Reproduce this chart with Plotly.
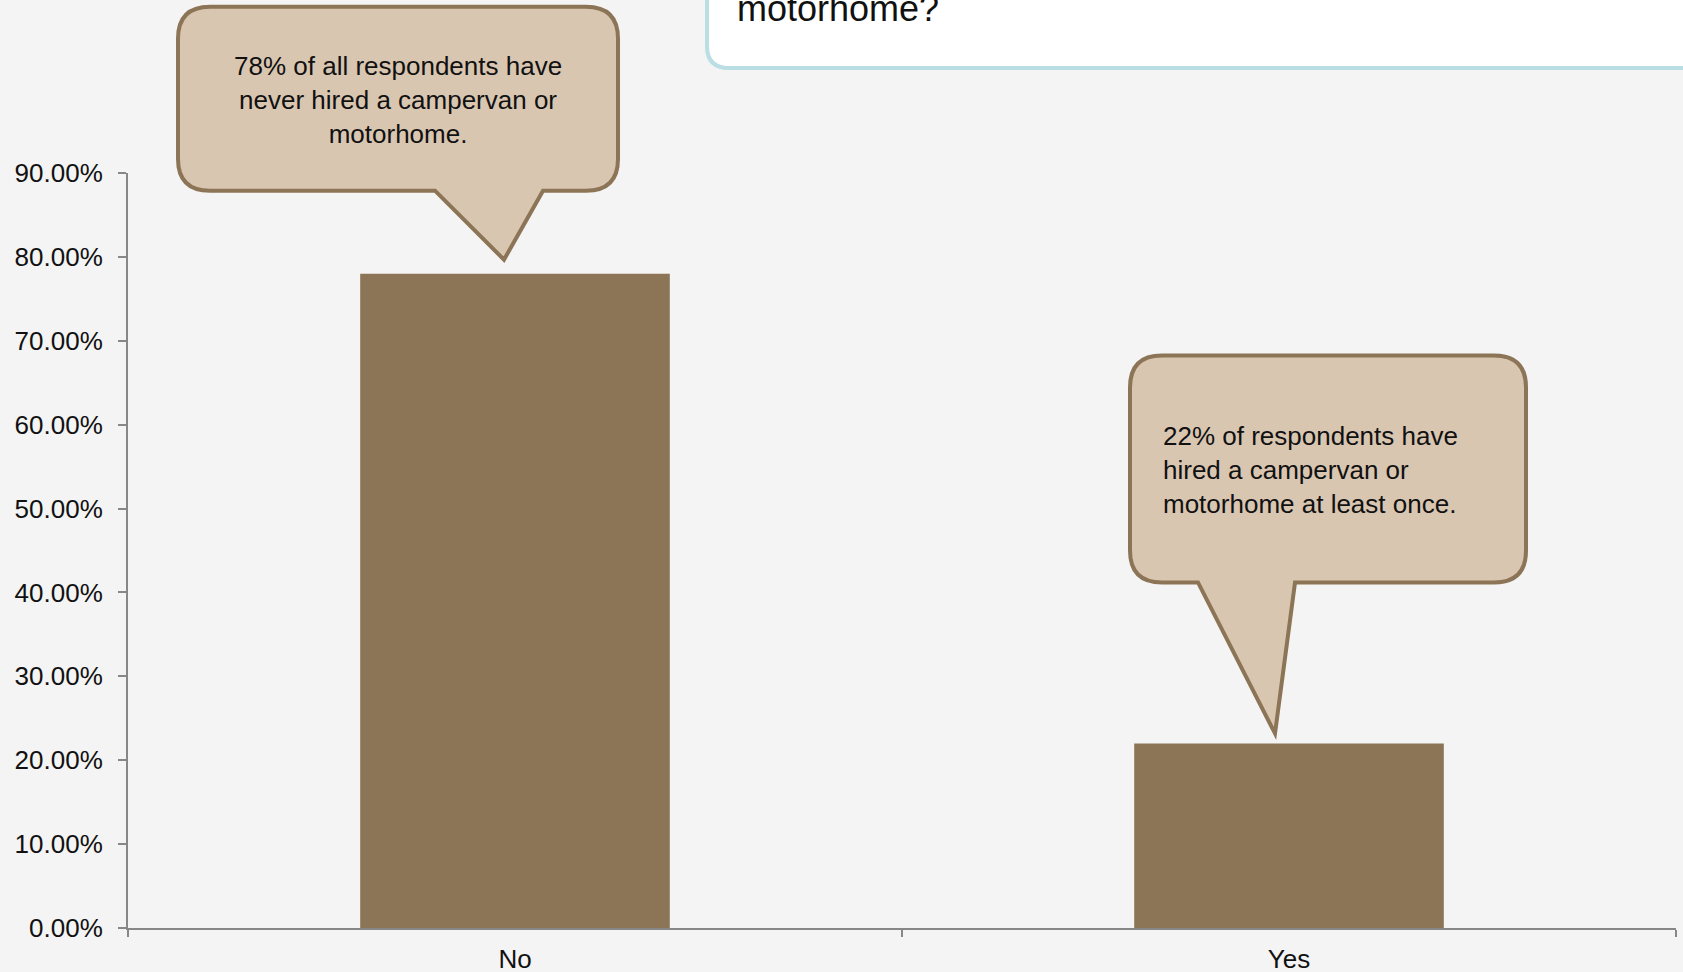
import plotly.graph_objects as go

# Survey answers
categories = ["No", "Yes"]
shares = [0.78, 0.22]
callout_texts = [
    "78% of all respondents have<br>never hired a campervan or<br>motorhome.",
    "22% of respondents have<br>hired a campervan or<br>motorhome at least once.",
]
question_tail = "motorhome?"
y_max = 0.9

W, H = 1683, 972
M = dict(l=128, r=7, t=173, b=44)
PW = W - M["l"] - M["r"]
PH = H - M["t"] - M["b"]

BAR = "#8c7456"
CALLOUT_FILL = "#d9c6b1"
FONT = "Liberation Sans, Arial, sans-serif"


def anchor(idx, value):
    """Paper coordinates of the top centre of a bar."""
    return (idx + 0.5) / len(categories), value / y_max


def callout_path(tx, ty, left, right, top, bottom, base_l, base_r, r=32):
    """Speech bubble; offsets are screen pixels relative to the pointer tip."""
    def P(x, y):
        return f"{tx + x / PW:.5f},{ty - y / PH:.5f}"
    return (
        f"M {P(left + r, top)} L {P(right - r, top)} "
        f"Q {P(right, top)} {P(right, top + r)} "
        f"L {P(right, bottom - r)} Q {P(right, bottom)} {P(right - r, bottom)} "
        f"L {P(base_r, bottom)} L {P(0, 0)} L {P(base_l, bottom)} "
        f"L {P(left + r, bottom)} Q {P(left, bottom)} {P(left, bottom - r)} "
        f"L {P(left, top + r)} Q {P(left, top)} {P(left + r, top)} Z"
    )


fig = go.Figure(
    go.Bar(x=categories, y=shares, marker=dict(color=BAR, line=dict(width=0)), width=0.4)
)

shapes = []
annotations = []

# bubble layout per bar: tip offset, box extents, pointer base, text placement
bubbles = [
    dict(tip=(-11, -14), box=(-326, 114, -253, -69), base=(-69, 39),
         text=(-106, -160), align="center", xanchor="center"),
    dict(tip=(-14, -10), box=(-145, 251, -378, -151), base=(-77, 20),
         text=(-114, -263), align="left", xanchor="left"),
]
for i, (val, txt, b) in enumerate(zip(shares, callout_texts, bubbles)):
    bx, by = anchor(i, val)
    tx = bx + b["tip"][0] / PW
    ty = by - b["tip"][1] / PH
    l, rgt, t, btm = b["box"]
    shapes.append(dict(
        type="path", xref="paper", yref="paper",
        path=callout_path(tx, ty, l, rgt, t, btm, *b["base"]),
        fillcolor=CALLOUT_FILL, line=dict(color=BAR, width=4), layer="above",
    ))
    annotations.append(dict(
        xref="paper", yref="paper",
        x=tx + b["text"][0] / PW, y=ty - b["text"][1] / PH,
        text=txt, showarrow=False, align=b["align"], xanchor=b["xanchor"],
        yanchor="middle", font=dict(family=FONT, size=26, color="#111111"),
    ))

# question panel at the top
qx0 = (707 - M["l"]) / PW
qy0 = 1 + (M["t"] - 68) / PH
qr = 22
shapes.append(dict(
    type="path", xref="paper", yref="paper",
    path=(f"M {qx0:.5f},{1 + (M['t'] + 20) / PH:.5f} "
          f"L {qx0:.5f},{qy0 + qr / PH:.5f} "
          f"Q {qx0:.5f},{qy0:.5f} {qx0 + qr / PW:.5f},{qy0:.5f} "
          f"L {1 + 40 / PW:.5f},{qy0:.5f} L {1 + 40 / PW:.5f},{1 + (M['t'] + 20) / PH:.5f} Z"),
    fillcolor="white", line=dict(color="#b9dee3", width=4), layer="above",
))
annotations.append(dict(
    xref="paper", yref="paper", x=(735 - M["l"]) / PW, y=1 + (M["t"] - 8) / PH,
    text=question_tail, showarrow=False, xanchor="left", yanchor="middle",
    font=dict(family=FONT, size=36, color="#111111"),
))

fig.update_layout(
    width=W, height=H, margin=M,
    paper_bgcolor="#f4f4f4", plot_bgcolor="#f4f4f4",
    showlegend=False, bargap=0.6,
    shapes=shapes, annotations=annotations,
    font=dict(family=FONT, color="#111111"),
)
fig.update_xaxes(
    type="category", tickson="boundaries", ticks="outside", ticklen=7,
    tickcolor="#878787", tickwidth=2, showline=True, linecolor="#878787",
    linewidth=2, showgrid=False, tickfont=dict(size=26, family=FONT),
    ticklabelstandoff=7, automargin=False,
)
fig.update_yaxes(
    range=[0, y_max], dtick=0.1, tickformat=".2%", ticks="outside", ticklen=8,
    tickcolor="#878787", tickwidth=2, showline=True, linecolor="#878787",
    linewidth=2, showgrid=False, zeroline=False,
    tickfont=dict(size=26, family=FONT), ticklabelstandoff=10, automargin=False,
)

fig.write_html("out.html")
